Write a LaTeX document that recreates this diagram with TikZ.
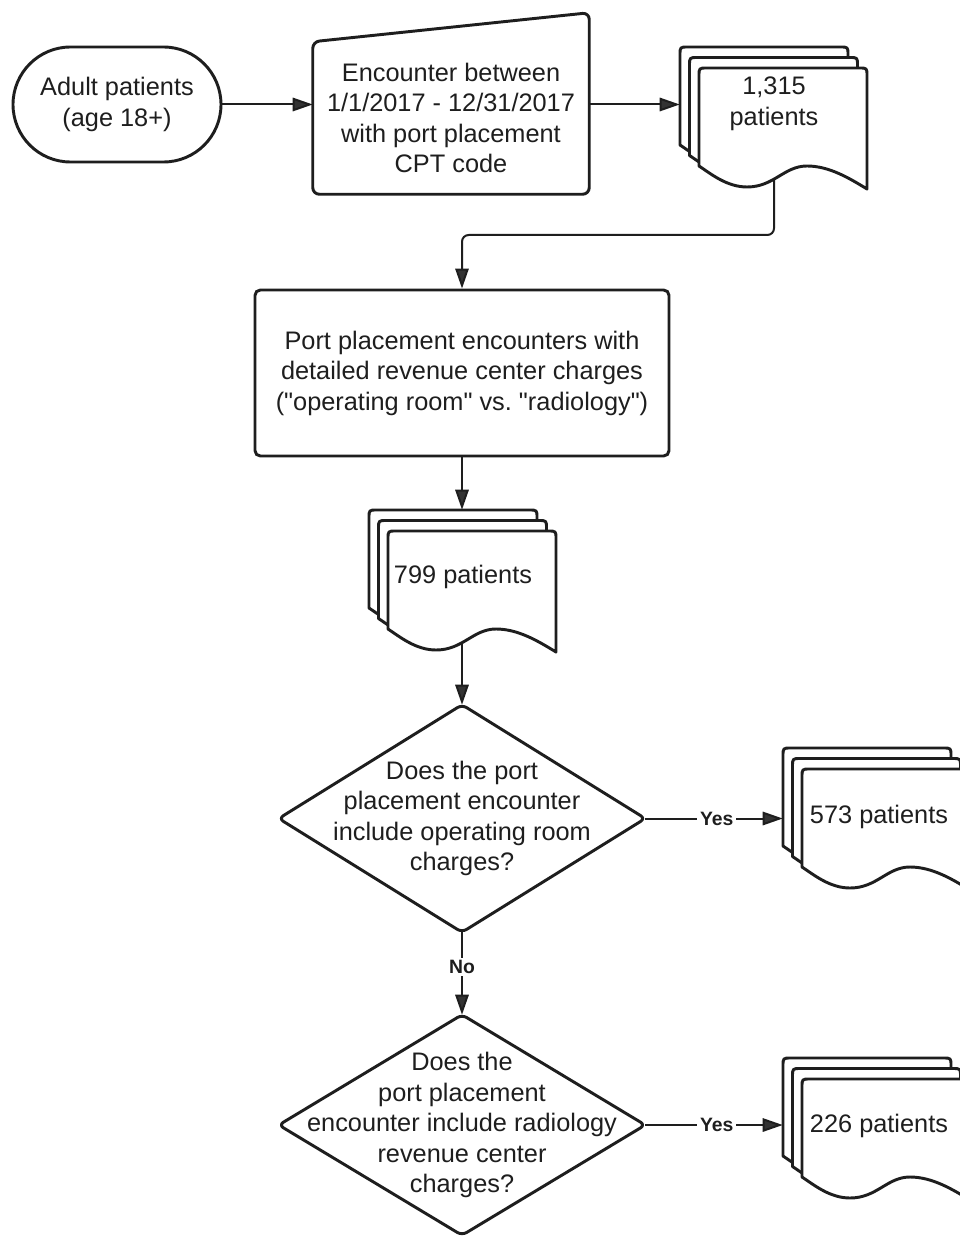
\documentclass[tikz,border=0pt]{standalone}
\usepackage{fontspec}
\setmainfont{Liberation Sans}
\newfontfamily\quotefont{Liberation Sans}
\usetikzlibrary{arrows.meta,shapes.misc,calc}
\pgfdeclarelayer{background}
\pgfsetlayers{background,main}
\definecolor{ink}{HTML}{1E1E1E}
\definecolor{tipc}{HTML}{333333}
\frenchspacing
\newcommand\mytxt{\fontsize{19}{22.9}\selectfont}
\newcommand\mylab{\fontsize{14.5}{17}\selectfont\bfseries}
\newcommand\dq{{\quotefont\symbol{34}}}
\newcommand\docsheet[2]{\begin{scope}[shift={(#1,#2)}]
 \draw[sheet] (0,98) -- (0,8) .. controls (0,0) .. (8,0) -- (160,0) .. controls (168,0) .. (168,8) -- (168,121) .. controls (150,110) and (130,98) .. (108,98) .. controls (85,98) and (75,119) .. (48,119) .. controls (28,119) and (12,106) .. (0,98) -- cycle;
\end{scope}}
\newcommand\multidoc[3]{\begin{scope}[shift={(#2,#3)}]
 \docsheet{0}{0}\docsheet{9.5}{10.5}\docsheet{19}{21}
 \node[inner sep=0pt,minimum width=140.25pt,minimum height=106.5pt] (#1) at (93.5,71) {};
\end{scope}}
\begin{document}
\begin{tikzpicture}[x=0.75pt,y=-0.75pt,
  shp/.style={draw=ink,line width=2.2pt,line join=round},
  sheet/.style={shp,fill=white},
  txt/.style={align=center,inner sep=0pt,font=\mytxt,text=ink},
  conn/.style={draw=ink,line width=1.5pt,-{Triangle[length=15pt,width=10pt,fill=tipc]}},
  lab/.style={fill=white,inner sep=2pt,font=\mylab,text=ink}]

\useasboundingbox (0,0) rectangle (959,1237);

% start / terminal
\node[txt,shape=rounded rectangle,draw=ink,line width=2.2pt,minimum width=156pt,minimum height=86.25pt] (term) at (117,104.5) {Adult patients\\(age 18+)};

% manual input
\node[txt,minimum width=207pt,minimum height=114pt] (mi) at (451,118) {Encounter between\\1/1/2017 - 12/31/2017\\with port placement\\CPT code};
\draw[shp,rounded corners=5pt] (mi.south west) -- (mi.north west) -- ($(mi.north east)+(0,-29)$) -- (mi.south east) -- cycle;

% process box
\node[txt,draw=ink,line width=2.2pt,rounded corners=4pt,minimum width=310.5pt,minimum height=124.5pt] (b2) at (462,373) {Port placement encounters with\\detailed revenue center charges\\(\dq operating room\dq{} vs.\ \dq radiology\dq)};

% decisions
\node[txt,minimum width=274.5pt,minimum height=170.25pt] (q1) at (462,818.5) {Does the port\\placement encounter\\include operating room\\charges?};
\draw[shp,rounded corners=4pt] (q1.north) -- (q1.east) -- (q1.south) -- (q1.west) -- cycle;

\node[txt,minimum width=274.5pt,minimum height=165pt] (q2) at (462,1125) {Does the\\port placement\\encounter include radiology\\revenue center\\charges?};
\draw[shp,rounded corners=4pt] (q2.north) -- (q2.east) -- (q2.south) -- (q2.west) -- cycle;

% multi-documents
\multidoc{d1}{680}{47}
\node[txt] (d1t) at (774,104) {1,315\\patients};
\multidoc{d2}{369}{510}
\node[txt] (d2t) at (463,577) {799 patients};
\multidoc{d3}{783}{748}
\node[txt] (d3t) at (879,817) {573 patients};
\multidoc{d4}{783}{1058}
\node[txt] (d4t) at (879,1126) {226 patients};

\coordinate (k1) at (600,235);

\begin{pgfonlayer}{background}
\fill[white] (0,0) rectangle (959,1237);
\draw[conn] (term.east) -- (term.east -| mi.west);
\draw[conn] (term.east -| mi.east) -- (term.east -| d1.west);
\draw[conn,rounded corners=5pt] (d1t.south) -- (d1t.south |- k1) -| (b2.north);
\draw[conn] (b2.south) -- (b2.south |- d2.north);
\draw[conn] (d2t.south -| q1.north) -- (q1.north);
\draw[conn] (q1.east) -- node[lab,pos=0.52]{Yes} (q1.east -| d3.west);
\draw[conn] (q1.south) -- node[lab,pos=0.42]{No} (q2.north);
\draw[conn] (q2.east) -- node[lab,pos=0.52]{Yes} (q2.east -| d4.west);
\end{pgfonlayer}
\end{tikzpicture}
\end{document}
